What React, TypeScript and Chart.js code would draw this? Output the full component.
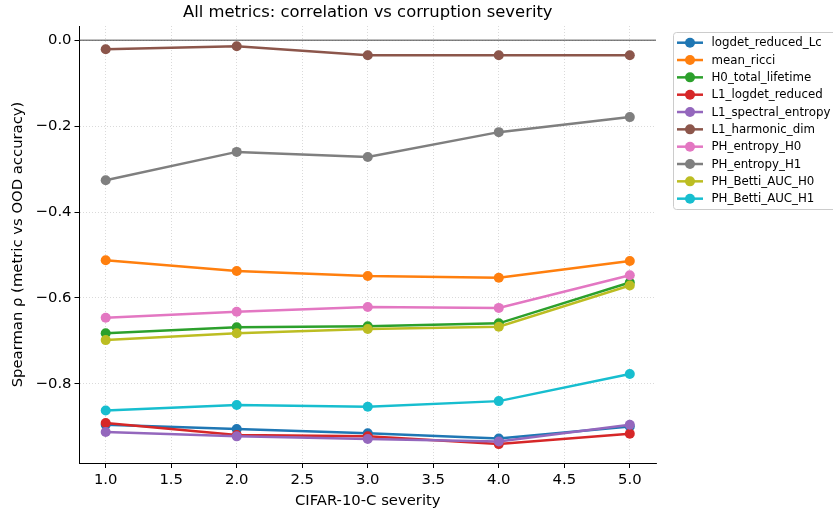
import React, { useEffect, useRef } from "react";
import { Chart, registerables } from "chart.js";

Chart.register(...registerables);

const severities = [1, 2, 3, 4, 5];

const logdetReducedLc = [-0.895, -0.905, -0.915, -0.927, -0.899];
const meanRicci = [-0.512, -0.537, -0.549, -0.553, -0.514];
const h0TotalLifetime = [-0.682, -0.668, -0.666, -0.659, -0.564];
const l1LogdetReduced = [-0.891, -0.919, -0.922, -0.940, -0.916];
const l1SpectralEntropy = [-0.912, -0.922, -0.928, -0.934, -0.895];
const l1HarmonicDim = [-0.021, -0.014, -0.035, -0.035, -0.035];
const phEntropyH0 = [-0.646, -0.632, -0.621, -0.623, -0.547];
const phEntropyH1 = [-0.326, -0.260, -0.272, -0.214, -0.179];
const phBettiAucH0 = [-0.698, -0.682, -0.672, -0.667, -0.571];
const phBettiAucH1 = [-0.862, -0.849, -0.853, -0.840, -0.777];

const seriesNames = [
  "logdet_reduced_Lc",
  "mean_ricci",
  "H0_total_lifetime",
  "L1_logdet_reduced",
  "L1_spectral_entropy",
  "L1_harmonic_dim",
  "PH_entropy_H0",
  "PH_entropy_H1",
  "PH_Betti_AUC_H0",
  "PH_Betti_AUC_H1",
];
const seriesValues = [
  logdetReducedLc,
  meanRicci,
  h0TotalLifetime,
  l1LogdetReduced,
  l1SpectralEntropy,
  l1HarmonicDim,
  phEntropyH0,
  phEntropyH1,
  phBettiAucH0,
  phBettiAucH1,
];
const seriesColors = [
  "#1f77b4",
  "#ff7f0e",
  "#2ca02c",
  "#d62728",
  "#9467bd",
  "#8c564b",
  "#e377c2",
  "#7f7f7f",
  "#bcbd22",
  "#17becf",
];

const xTicks = [1, 1.5, 2, 2.5, 3, 3.5, 4, 4.5, 5];
const yTicks = [-0.8, -0.6, -0.4, -0.2, 0.0];

const titleText = "All metrics: correlation vs corruption severity";
const xLabel = "CIFAR-10-C severity";
const yLabel = "Spearman ρ (metric vs OOD accuracy)";

const FONT = "'DejaVu Sans', sans-serif";
const TICK_SIZE = 14.8;
const LABEL_SIZE = 14.8;

const fmt = (v: number) => {
  const s = Math.abs(v).toFixed(1);
  return v < -1e-9 ? "\u2212" + s : s;
};

const decorPlugin = {
  id: "decor",
  beforeDatasetsDraw(chart: any) {
    const { ctx, chartArea, scales } = chart;
    const y0 = scales.y.getPixelForValue(0);
    ctx.save();
    ctx.strokeStyle = "#444444";
    ctx.lineWidth = 1;
    ctx.beginPath();
    ctx.moveTo(chartArea.left, y0);
    ctx.lineTo(chartArea.right, y0);
    ctx.stroke();
    ctx.restore();
  },
  afterDraw(chart: any) {
    const { ctx, chartArea } = chart;
    ctx.save();
    // title
    ctx.fillStyle = "#000";
    ctx.font = `16.4px ${FONT}`;
    ctx.textAlign = "center";
    ctx.textBaseline = "middle";
    ctx.fillText(titleText, (chartArea.left + chartArea.right) / 2, 13);

    // legend
    const bx = 673.5;
    const by = 32.5;
    const bw = 165;
    const bh = 177;
    const r = 3;
    ctx.fillStyle = "rgba(255,255,255,0.8)";
    ctx.strokeStyle = "#cccccc";
    ctx.lineWidth = 1;
    ctx.beginPath();
    ctx.moveTo(bx + r, by);
    ctx.lineTo(bx + bw - r, by);
    ctx.arcTo(bx + bw, by, bx + bw, by + r, r);
    ctx.lineTo(bx + bw, by + bh - r);
    ctx.arcTo(bx + bw, by + bh, bx + bw - r, by + bh, r);
    ctx.lineTo(bx + r, by + bh);
    ctx.arcTo(bx, by + bh, bx, by + bh - r, r);
    ctx.lineTo(bx, by + r);
    ctx.arcTo(bx, by, bx + r, by, r);
    ctx.closePath();
    ctx.fill();
    ctx.stroke();

    ctx.font = `11.8px ${FONT}`;
    ctx.textAlign = "left";
    ctx.textBaseline = "middle";
    seriesNames.forEach((name, i) => {
      const yy = 42.7 + i * 17.33;
      ctx.strokeStyle = seriesColors[i];
      ctx.lineWidth = 2.5;
      ctx.beginPath();
      ctx.moveTo(677, yy);
      ctx.lineTo(703, yy);
      ctx.stroke();
      ctx.fillStyle = seriesColors[i];
      ctx.beginPath();
      ctx.arc(690, yy, 5, 0, Math.PI * 2);
      ctx.fill();
      ctx.fillStyle = "#000";
      ctx.fillText(name, 711.5, yy + 0.5);
    });
    ctx.restore();
  },
};

export default function App() {
  const canvasRef = useRef<HTMLCanvasElement | null>(null);

  useEffect(() => {
    document.body.style.margin = "0";
    const canvas = canvasRef.current;
    if (!canvas) return;
    const datasets = seriesNames.map((name, i) => ({
      label: name,
      data: severities.map((x, j) => ({ x, y: seriesValues[i][j] })),
      borderColor: seriesColors[i],
      backgroundColor: seriesColors[i],
      pointBackgroundColor: seriesColors[i],
      pointBorderColor: seriesColors[i],
      borderWidth: 2.5,
      pointRadius: 5,
      pointBorderWidth: 0,
      tension: 0,
      order: -i,
    }));

    const gridOpts = {
      color: "rgba(176,176,176,0.6)",
      lineWidth: 0.8,
      drawTicks: true,
      tickLength: 5,
      tickColor: "#000",
      tickWidth: 1,
      tickBorderDash: [],
    };

    const chart = new Chart(canvas, {
      type: "line",
      data: { datasets },
      plugins: [decorPlugin],
      options: {
        animation: false,
        responsive: false,
        devicePixelRatio: 1,
        layout: { padding: { left: 0, right: 177, top: 26, bottom: 0 } },
        plugins: {
          legend: { display: false },
          title: { display: false },
          tooltip: { enabled: false },
        },
        scales: {
          x: {
            type: "linear",
            min: 0.8,
            max: 5.2,
            afterFit(scale: any) {
              scale.height = 49;
            },
            afterBuildTicks(scale: any) {
              scale.ticks = xTicks.map((v) => ({ value: v }));
            },
            ticks: {
              autoSkip: false,
              maxRotation: 0,
              color: "#000",
              font: { family: FONT, size: TICK_SIZE },
              padding: 3,
              callback: (v: any) => fmt(Number(v)),
            },
            grid: gridOpts,
            border: { display: true, color: "#000", width: 1, dash: [1, 2] },
            title: {
              display: true,
              text: xLabel,
              color: "#000",
              font: { family: FONT, size: LABEL_SIZE },
              padding: { top: 0, bottom: 2 },
            },
          },
          y: {
            type: "linear",
            min: -0.984,
            max: 0.033,
            afterFit(scale: any) {
              scale.width = 79.5;
            },
            afterBuildTicks(scale: any) {
              scale.ticks = yTicks.map((v) => ({ value: v }));
            },
            ticks: {
              autoSkip: false,
              color: "#000",
              font: { family: FONT, size: TICK_SIZE },
              padding: 3,
              callback: (v: any) => fmt(Number(v)),
            },
            grid: gridOpts,
            border: { display: true, color: "#000", width: 1, dash: [1, 2] },
            title: {
              display: true,
              text: yLabel,
              color: "#000",
              font: { family: FONT, size: LABEL_SIZE },
              padding: { top: 9, bottom: 0 },
            },
          },
        },
      },
    } as any);
    return () => chart.destroy();
  }, []);

  return (
    <div style={{ width: 833, height: 512 }}>
      <canvas ref={canvasRef} width={833} height={512} style={{ display: "block" }} />
    </div>
  );
}
